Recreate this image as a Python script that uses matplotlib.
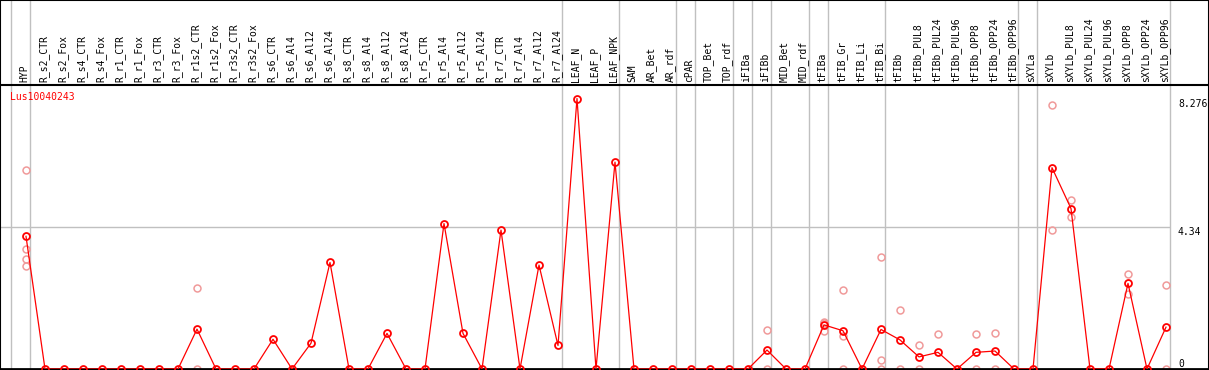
import numpy as np
import matplotlib
matplotlib.use('Agg')
import matplotlib.pyplot as plt
import matplotlib.transforms as mtransforms

# Categories (conditions) along the x axis
categories = ['HYP',
              'R_s2_CTR', 'R_s2_Fox', 'R_s4_CTR', 'R_s4_Fox', 'R_r1_CTR', 'R_r1_Fox',
              'R_r3_CTR', 'R_r3_Fox', 'R_r1s2_CTR', 'R_r1s2_Fox', 'R_r3s2_CTR', 'R_r3s2_Fox',
              'R_s6_CTR', 'R_s6_Al4', 'R_s6_Al12', 'R_s6_Al24',
              'R_s8_CTR', 'R_s8_Al4', 'R_s8_Al12', 'R_s8_Al24',
              'R_r5_CTR', 'R_r5_Al4', 'R_r5_Al12', 'R_r5_Al24',
              'R_r7_CTR', 'R_r7_Al4', 'R_r7_Al12', 'R_r7_Al24',
              'LEAF_N', 'LEAF_P', 'LEAF_NPK',
              'SAM', 'AR_Bet', 'AR_rdf', 'cPAR', 'TOP_Bet', 'TOP_rdf',
              'iFIBa', 'iFIBb', 'MID_Bet', 'MID_rdf', 'tFIBa',
              'tFIB_Gr', 'tFIB_Li', 'tFIB_Bi',
              'tFIBb', 'tFIBb_PUL8', 'tFIBb_PUL24', 'tFIBb_PUL96',
              'tFIBb_OPP8', 'tFIBb_OPP24', 'tFIBb_OPP96',
              'sXYLa', 'sXYLb', 'sXYLb_PUL8', 'sXYLb_PUL24', 'sXYLb_PUL96',
              'sXYLb_OPP8', 'sXYLb_OPP24', 'sXYLb_OPP96']

# Mean expression per condition
mean_values = [4.06,
               0, 0, 0, 0, 0, 0, 0, 0, 1.22, 0, 0, 0,
               0.91, 0, 0.79, 3.26,
               0, 0, 1.09, 0,
               0, 4.45, 1.09, 0,
               4.25, 0, 3.18, 0.72,
               8.276, 0, 6.33,
               0, 0, 0, 0, 0, 0,
               0, 0.58, 0, 0, 1.35,
               1.17, 0, 1.21,
               0.89, 0.37, 0.51, 0, 0.51, 0.55, 0,
               0, 6.16, 4.91, 0, 0, 2.62, 0, 1.28]

# Individual replicates (condition, value)
rep_cats = ['HYP', 'HYP', 'HYP', 'HYP',
            'R_r1s2_CTR', 'R_r1s2_CTR',
            'iFIBb', 'iFIBb',
            'tFIBa', 'tFIBa', 'tFIBa',
            'tFIB_Gr', 'tFIB_Gr', 'tFIB_Gr',
            'tFIB_Bi', 'tFIB_Bi', 'tFIB_Bi',
            'tFIBb', 'tFIBb',
            'tFIBb_PUL8', 'tFIBb_PUL8',
            'tFIBb_PUL24',
            'tFIBb_OPP8', 'tFIBb_OPP8',
            'tFIBb_OPP24', 'tFIBb_OPP24',
            'sXYLb', 'sXYLb',
            'sXYLb_PUL8', 'sXYLb_PUL8',
            'sXYLb_OPP8', 'sXYLb_OPP8',
            'sXYLb_OPP96', 'sXYLb_OPP96']
rep_vals = [6.10, 3.66, 3.36, 3.15,
            2.47, 0,
            1.19, 0,
            1.45, 1.42, 1.15,
            2.41, 1.02, 0,
            3.44, 0.27, 0,
            1.80, 0,
            0.72, 0,
            1.06,
            1.06, 0,
            1.09, 0,
            8.09, 4.24,
            5.16, 4.66,
            2.92, 2.29,
            2.56, 0]

# Groups end after these conditions (vertical separators)
group_ends = ['HYP', 'R_r7_Al24', 'LEAF_NPK', 'AR_rdf', 'cPAR', 'TOP_rdf', 'iFIBa',
              'iFIBb', 'MID_rdf', 'tFIBa', 'tFIB_Bi', 'tFIBb_OPP96', 'sXYLa', 'sXYLb_OPP96']

gene = 'Lus10040243'

W, H = 1209, 370
HEADER = 85
RED = '#ff0000'
PINK = '#f09a9a'
GRID = '#c0c0c0'
FONT = 'DejaVu Sans Mono'


def main():
    fig = plt.figure(figsize=(W / 100, H / 100), dpi=100)

    x = np.arange(len(categories))
    idx = {c: i for i, c in enumerate(categories)}
    xlim = (-26 / 19, (W - 26) / 19)
    seps = [-1.0 + 0.23] + [idx[c] + 0.23 for c in group_ends]

    ytop = max(mean_values) * 1.05

    # Plot area
    ax = fig.add_axes([0, 1 / H, 1, (H - HEADER - 1) / H])
    ax.set_xlim(*xlim)
    ax.set_ylim(0, ytop)
    for s in seps:
        ax.axvline(s, color=GRID, lw=1, zorder=1)
    ax.hlines(ytop / 2, xlim[0], seps[-1], color=GRID, lw=1, zorder=1)

    rx = [idx[c] for c in rep_cats]
    ax.plot(rx, rep_vals, 'o', ms=5, mfc='none', mec=PINK, mew=1.1, zorder=2,
            clip_on=False)
    ax.plot(x, mean_values, '-', color=RED, lw=0.9, zorder=3)
    ax.plot(x, mean_values, 'o', ms=5, mfc='none', mec=RED, mew=1.3, zorder=4,
            clip_on=False)

    ax.set_xticks([])
    ax.set_yticks([])
    ax.spines['top'].set_visible(False)
    ax.spines['left'].set_linewidth(1.5)
    ax.spines['right'].set_linewidth(1.5)
    ax.spines['bottom'].set_linewidth(2)

    trans = mtransforms.blended_transform_factory(ax.transAxes, ax.transData)
    tx = 1178 / W
    ax.text(tx, max(mean_values), f'{max(mean_values):g}', transform=trans,
            va='top', ha='left', fontsize=7, family=FONT)
    ax.text(tx, ytop / 2, f'{ytop / 2:.2f}'.rstrip('0'), transform=trans,
            va='top', ha='left', fontsize=7, family=FONT)
    ax.text(tx, 0, '0', transform=trans, va='bottom', ha='left', fontsize=7,
            family=FONT)
    ax.text(10 / W, 1 - 12 / (H - HEADER), gene, transform=ax.transAxes,
            color=RED, va='center', ha='left', fontsize=7, family=FONT)

    # Header with condition names
    hx = fig.add_axes([0, (H - HEADER) / H, 1, HEADER / H])
    hx.set_xlim(*xlim)
    hx.set_ylim(0, HEADER)
    for s in seps:
        hx.axvline(s, color=GRID, lw=1)
    for i, c in enumerate(categories):
        hx.text(i - 0.08, 3, c, rotation=90, ha='center', va='bottom',
                fontsize=7, family=FONT)
    hx.set_xticks([])
    hx.set_yticks([])
    for sp in hx.spines.values():
        sp.set_linewidth(1.5)

    fig.savefig('out.png', dpi=100)


if __name__ == "__main__":
    main()
